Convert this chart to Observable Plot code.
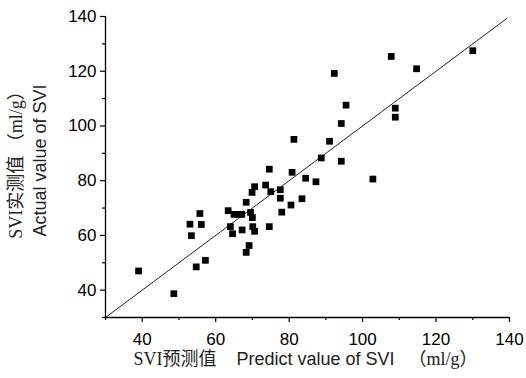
<!DOCTYPE html>
<html>
<head>
<meta charset="utf-8">
<script src="https://cdn.jsdelivr.net/npm/d3@7"></script>
<script src="https://cdn.jsdelivr.net/npm/@observablehq/plot@0.6"></script>
<style>
  html, body { margin: 0; padding: 0; background: #fff; }
  #chart { width: 526px; height: 378px; }
</style>
</head>
<body>
<div id="chart"></div>
<script>
// Predicted SVI (x) and actual SVI (y), ml/g
const predicted = [130.0, 107.8, 114.7, 92.3, 95.5, 108.9, 108.9, 94.2, 81.3, 91.0,
  88.75, 94.2, 74.6, 80.8, 84.5, 87.3, 102.8, 73.6, 77.6, 70.6,
  69.9, 75.0, 77.6, 83.5, 80.5, 68.3, 78.0, 63.4, 65.0, 66.1,
  67.1, 69.5, 70.0, 64.0, 64.6, 67.2, 70.1, 70.6, 74.6, 69.1,
  68.3, 39.0, 48.6, 53.0, 53.4, 55.7, 56.1, 54.7, 57.2];
const actual = [127.5, 125.4, 120.9, 119.2, 107.6, 106.5, 103.2, 100.9, 95.1, 94.4,
  88.3, 87.1, 84.2, 83.05, 80.9, 79.6, 80.6, 78.4, 76.7, 77.8,
  75.7, 76.0, 73.6, 73.4, 71.1, 72.1, 68.5, 69.05, 67.7, 67.7,
  67.7, 68.4, 66.5, 63.2, 60.6, 62.0, 63.2, 61.5, 63.2, 56.3,
  53.8, 47.0, 38.7, 64.1, 59.9, 68.0, 64.0, 48.5, 50.9];

const majorTicks = [40, 60, 80, 100, 120, 140];
const minorTicks = [30, 50, 70, 90, 110, 130];
const axisDomain = [30, 140];
const identityRange = [30, 139.3];

const yLabelOuter = "SVI实测值 （ml/g）";
const yLabelInner = "Actual value of SVI";
const xLabelParts = ["SVI预测值", "Predict value of SVI", "（ml/g）"];

const points = predicted.map((p, i) => ({x: p, y: actual[i]}));
const identity = identityRange.map(v => ({x: v, y: v}));

const serif = "'Liberation Serif', 'DejaVu Serif', 'Noto Sans CJK SC', serif";
const sans = "'Liberation Sans', Arial, 'Noto Sans CJK SC', sans-serif";

const chart = Plot.plot({
  width: 526,
  height: 378,
  marginLeft: 105,
  marginRight: 17,
  marginTop: 16,
  marginBottom: 61,
  style: {fontFamily: sans, fontSize: "17px", background: "#fff", color: "#000"},
  x: {domain: axisDomain},
  y: {domain: axisDomain},
  marks: [
    Plot.line(identity, {x: "x", y: "y", stroke: "#222", strokeWidth: 1}),
    Plot.dot(points, {x: "x", y: "y", symbol: "square", r: 3.8, fill: "#000", stroke: "none"}),
    Plot.axisX({ticks: majorTicks, tickSize: 5, tickPadding: 10, fontSize: 17, label: null, stroke: "#000", strokeWidth: 1.2}),
    Plot.axisX({ticks: minorTicks, tickSize: 3, tickFormat: () => "", label: null, stroke: "#000", strokeWidth: 1.2}),
    Plot.axisY({ticks: majorTicks, tickSize: 5, tickPadding: 4, fontSize: 17, label: null, stroke: "#000", strokeWidth: 1.2}),
    Plot.axisY({ticks: minorTicks, tickSize: 3, tickFormat: () => "", label: null, stroke: "#000", strokeWidth: 1.2}),
    Plot.ruleX([axisDomain[0]], {stroke: "#000", strokeWidth: 1.3}),
    Plot.ruleY([axisDomain[0]], {stroke: "#000", strokeWidth: 1.3}),
    Plot.text([yLabelOuter], {frameAnchor: "left", textAnchor: "middle", rotate: -90, dx: -89.5, dy: -6.5, fontFamily: serif, fontSize: 18, fill: "#222"}),
    Plot.text([yLabelInner], {frameAnchor: "left", textAnchor: "middle", rotate: -90, dx: -65.5, dy: -6.5, fontFamily: sans, fontSize: 18, fill: "#222"}),
    Plot.text([xLabelParts[0]], {frameAnchor: "bottom-left", textAnchor: "start", dx: 28, dy: 47, fontFamily: serif, fontSize: 18, fill: "#222"}),
    Plot.text([xLabelParts[1]], {frameAnchor: "bottom-left", textAnchor: "start", dx: 131, dy: 47, fontFamily: sans, fontSize: 18, fill: "#222"}),
    Plot.text([xLabelParts[2]], {frameAnchor: "bottom-left", textAnchor: "start", dx: 303, dy: 47, fontFamily: serif, fontSize: 18, fill: "#222"})
  ]
});
document.getElementById("chart").appendChild(chart);
</script>
</body>
</html>
